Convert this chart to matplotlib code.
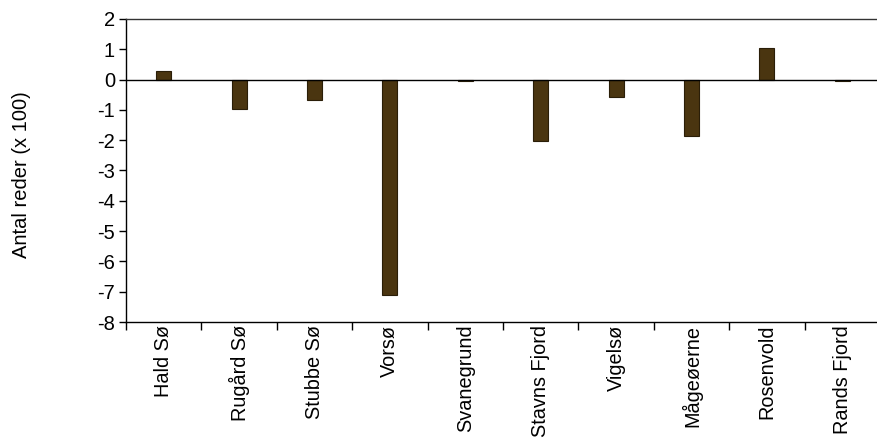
import matplotlib.pyplot as plt
import numpy as np

plt.rcParams['font.family'] = ['Liberation Sans', 'DejaVu Sans']

# Change in number of nests (x 100) per colony
sites = ['Hald Sø', 'Rugård Sø', 'Stubbe Sø', 'Vorsø', 'Svanegrund',
         'Stavns Fjord', 'Vigelsø', 'Mågeøerne', 'Rosenvold', 'Rands Fjord']
change = [0.27, -0.98, -0.68, -7.12, -0.03, -2.03, -0.58, -1.87, 1.04, -0.05]
yticks = list(range(-8, 3))

fig = plt.figure(figsize=(8.78, 4.46), dpi=100)
ax = fig.add_axes([126 / 878, 1 - 322 / 446, 754 / 878, 303 / 446])

x = np.arange(len(sites))
ax.bar(x, change, width=0.2, color='#4a3510', edgecolor='#2a1e08', linewidth=0.8, zorder=2)
ax.axhline(0, color='black', linewidth=1.0, zorder=3)

ax.set_xlim(-0.5, len(sites) - 0.5)
ax.set_ylim(-8, 2)
ax.set_yticks(yticks)
ax.set_yticklabels([str(v) for v in yticks], fontsize=14.5)

# labels at category centres, tick marks at category boundaries
ax.set_xticks(x)
ax.set_xticklabels(sites, rotation=90, fontsize=14.3)
ax.set_xticks(np.arange(len(sites)) - 0.5, minor=True)
ax.tick_params(axis='x', which='major', length=0, pad=2)
ax.tick_params(axis='x', which='minor', length=6, width=1, direction='out')
ax.tick_params(axis='y', length=5, width=1, direction='out', pad=3)

ax.spines['right'].set_visible(False)
for s in ['top', 'left', 'bottom']:
    ax.spines[s].set_linewidth(1.0)
ax.spines['top'].set_color('#333333')

fig.text(22 / 878, 1 - 175 / 446, 'Antal reder (x 100)', rotation=90,
         ha='center', va='center', fontsize=14.5)

fig.savefig('out.png', dpi=100)
